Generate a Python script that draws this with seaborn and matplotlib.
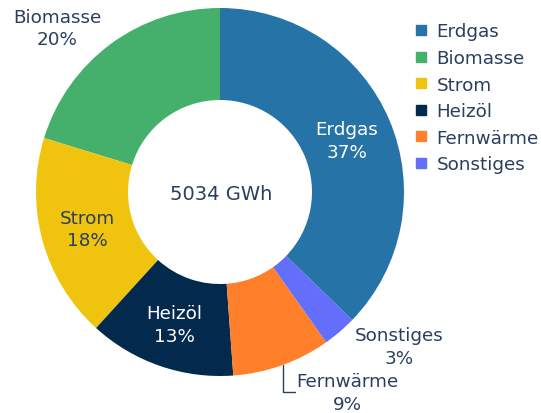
import matplotlib
matplotlib.use("Agg")
import matplotlib.pyplot as plt
import seaborn as sns
from matplotlib.lines import Line2D

# data (GWh), drawing order counterclockwise from 12 o'clock
sources = ["Biomasse", "Strom", "Heizöl", "Fernwärme", "Sonstiges", "Erdgas"]
gwh = [1020, 905, 650, 435, 150, 1874]
colors = ["#45b06c", "#f0c30f", "#03294d", "#ff7f2a", "#636efa", "#2573a7"]
legend_order = ["Erdgas", "Biomasse", "Strom", "Heizöl", "Fernwärme", "Sonstiges"]
total_label = "5034 GWh"

sns.set_theme(style="white")
plt.rcParams["font.family"] = ["DejaVu Sans"]
txt = "#2a3f5f"
fs = 13.2

fig = plt.figure(figsize=(5.41, 4.14), dpi=100)
# pie centre at (220, 193) px, radius 184 px
ax = fig.add_axes([36 / 541, (414 - 193 - 184) / 414, 368 / 541, 368 / 414])
wedges, _ = ax.pie(gwh, colors=colors, startangle=90, counterclock=True,
                   radius=1, wedgeprops=dict(width=0.5, linewidth=0))
ax.set_xlim(-1, 1)
ax.set_ylim(-1, 1)
ax.set_aspect("equal")
ax.axis("off")

total = sum(gwh)
pct = {s: f"{v / total * 100:.0f}%" for s, v in zip(sources, gwh)}

# label positions in units of radius
label_pos = {
    "Erdgas": (0.69, 0.28, "white"),
    "Biomasse": (-0.885, 0.89, txt),
    "Strom": (-0.72, -0.20, txt),
    "Heizöl": (-0.25, -0.72, "white"),
    "Sonstiges": (0.975, -0.84, txt),
    "Fernwärme": (0.69, -1.09, txt),
}
for s, (x, y, c) in label_pos.items():
    ax.text(x, y, f"{s}\n{pct[s]}", ha="center", va="center", color=c,
            fontsize=fs, linespacing=1.3, clip_on=False)

# leader line for Fernwärme
ax.plot([0.342, 0.342, 0.408], [-0.94, -1.085, -1.085], color=txt,
        linewidth=1, clip_on=False)

ax.text(0.005, -0.01, total_label, ha="center", va="center", color=txt, fontsize=14)

handles = [Line2D([], [], marker="s", linestyle="", markersize=6.5,
                  color=colors[sources.index(s)]) for s in legend_order]
fig.legend(handles, legend_order, loc="upper left", bbox_to_anchor=(407 / 541, 1 - 16 / 414),
           frameon=False, fontsize=fs, labelcolor=txt, handlelength=0.7,
           handletextpad=0.5, labelspacing=0.47, borderaxespad=0)

fig.savefig("out.png", dpi=100)
